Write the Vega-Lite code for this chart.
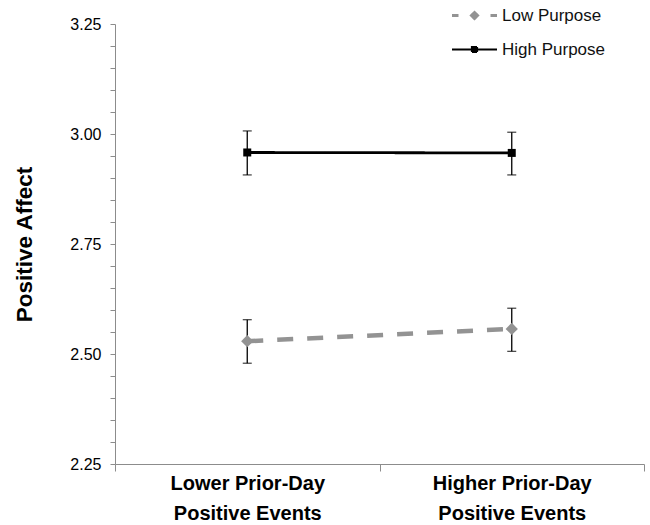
{
  "$schema": "https://vega.github.io/schema/vega-lite/v6.json",
  "width": 529,
  "height": 440,
  "autosize": {"type": "none"},
  "padding": {"left": 115, "top": 24, "right": 6, "bottom": 61},
  "background": "white",
  "config": {
    "view": {"stroke": null},
    "font": "Liberation Sans",
    "axis": {"grid": false, "domainColor": "#8c8c8c", "tickColor": "#8c8c8c", "labelColor": "#000000", "titleColor": "#000000", "labelFont": "Liberation Sans", "titleFont": "Liberation Sans"}
  },
  "data": {
    "values": [
      {"group": "Low Purpose", "events": "Lower Prior-Day Positive Events", "mean": 2.529, "lo": 2.479, "hi": 2.578},
      {"group": "Low Purpose", "events": "Higher Prior-Day Positive Events", "mean": 2.557, "lo": 2.506, "hi": 2.604},
      {"group": "High Purpose", "events": "Lower Prior-Day Positive Events", "mean": 2.958, "lo": 2.907, "hi": 3.007},
      {"group": "High Purpose", "events": "Higher Prior-Day Positive Events", "mean": 2.957, "lo": 2.907, "hi": 3.004}
    ]
  },
  "encoding": {
    "x": {
      "field": "events",
      "type": "nominal",
      "sort": ["Lower Prior-Day Positive Events", "Higher Prior-Day Positive Events"],
      "scale": {"paddingInner": 0, "paddingOuter": 0},
      "axis": {
        "title": null,
        "labelAngle": 0,
        "tickBand": "extent",
        "tickSize": 7,
        "labelFontSize": 20,
        "labelFontWeight": "bold",
        "labelLineHeight": 30,
        "labelPadding": 2,
        "labelOverlap": false,
        "labelExpr": "isString(datum.label) && indexof(datum.label, ' Positive') > 0 ? [slice(datum.label, 0, indexof(datum.label, ' Positive')), 'Positive Events'] : ''"
      }
    },
    "y": {"type": "quantitative", "scale": {"domain": [2.25, 3.25], "nice": false, "zero": false},
      "axis": {
        "title": "Positive Affect",
        "titleFontSize": 22.5,
        "titleFontWeight": "bold",
        "titlePadding": 33,
        "values": [2.25, 2.3, 2.35, 2.4, 2.45, 2.5, 2.55, 2.6, 2.65, 2.7, 2.75, 2.8, 2.85, 2.9, 2.95, 3.0, 3.05, 3.1, 3.15, 3.2, 3.25],
        "labelExpr": "(datum.value == 2.25 || datum.value == 2.5 || datum.value == 2.75 || datum.value == 3 || datum.value == 3.25) ? format(datum.value, '.2f') : ''",
        "labelOverlap": false,
        "labelFontSize": 16,
        "tickSize": 5,
        "labelPadding": 9
      }}
  },
  "layer": [
    {
      "mark": {"type": "rule", "color": "#000000", "strokeWidth": 1.3},
      "encoding": {
        "y": {"field": "lo"},
        "y2": {"field": "hi"}
      }
    },
    {
      "mark": {"type": "tick", "color": "#000000", "thickness": 1.3, "size": 9},
      "encoding": {"y": {"field": "lo"}}
    },
    {
      "mark": {"type": "tick", "color": "#000000", "thickness": 1.3, "size": 9},
      "encoding": {"y": {"field": "hi"}}
    },
    {
      "mark": {"type": "line"},
      "encoding": {
        "y": {"field": "mean"},
        "color": {
          "field": "group",
          "type": "nominal",
          "scale": {"domain": ["Low Purpose", "High Purpose"], "range": ["#939393", "#000000"]},
          "legend": {
            "title": null,
            "orient": "none",
            "legendX": 351,
            "legendY": -17,
            "padding": 0,
            "symbolSize": 100,
            "labelFontSize": 17,
            "labelColor": "#111111",
            "labelOffset": 19,
            "rowPadding": 15,
            "encode": {
              "symbols": {
                "update": {
                  "shape": {"signal": "datum.value === 'Low Purpose' ? 'M-4.5,0H-3.2M3.2,0H4.5M0,-0.6L0.6,0L0,0.6L-0.6,0Z' : 'M-4.5,0H4.5M-0.5,-0.5H0.5V0.5H-0.5Z'"},
                  "fill": {"signal": "datum.value === 'Low Purpose' ? '#939393' : '#000000'"},
                  "stroke": {"signal": "datum.value === 'Low Purpose' ? '#939393' : '#000000'"},
                  "strokeWidth": {"signal": "datum.value === 'Low Purpose' ? 3 : 2.2"},
                  "strokeDash": {"value": [1, 0]},
                  "opacity": {"value": 1},
                  "fillOpacity": {"value": 1},
                  "strokeOpacity": {"value": 1}
                }
              }
            }
          }
        },
        "strokeWidth": {"condition": {"test": "datum.group === 'Low Purpose'", "value": 4.5}, "value": 2.8},
        "strokeDash": {"condition": {"test": "datum.group === 'Low Purpose'", "value": [16, 14]}, "value": [1, 0]}
      }
    },
    {
      "mark": {"type": "point", "filled": true, "opacity": 1},
      "encoding": {
        "y": {"field": "mean"},
        "color": {"field": "group", "type": "nominal", "legend": null},
        "shape": {"condition": {"test": "datum.group === 'Low Purpose'", "value": "diamond"}, "value": "square"},
        "size": {"condition": {"test": "datum.group === 'Low Purpose'", "value": 150}, "value": 64}
      }
    }
  ]
}
